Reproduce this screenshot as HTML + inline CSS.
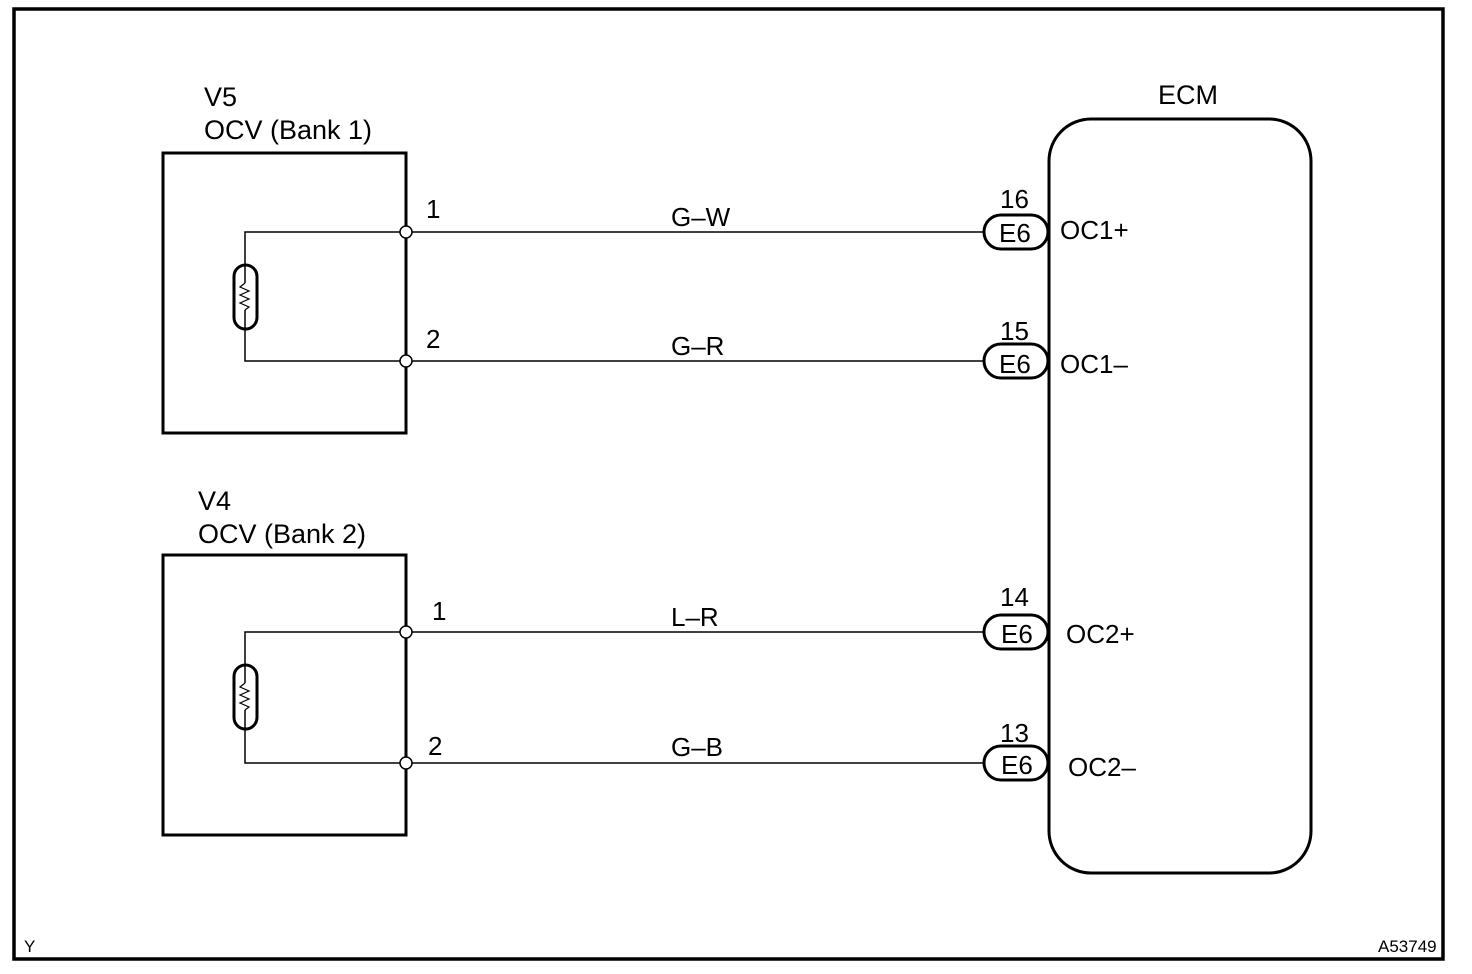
<!DOCTYPE html>
<html><head><meta charset="utf-8"><style>
html,body{margin:0;padding:0;background:#fff;}
svg{display:block;}
text{font-family:"Liberation Sans",Arial,sans-serif;fill:#000;}
</style></head><body>
<svg width="1472" height="974" viewBox="0 0 1472 974" xmlns="http://www.w3.org/2000/svg">
<rect x="14" y="9" width="1429" height="950" fill="none" stroke="#000" stroke-width="3.5"/>

<!-- Block V5 -->
<text x="204" y="106" font-size="27">V5</text>
<text x="204" y="139" font-size="27">OCV (Bank 1)</text>
<rect x="163" y="153" width="243" height="280" fill="none" stroke="#000" stroke-width="3"/>
<polyline points="406,232 245,232 245,361 406,361" fill="none" stroke="#000" stroke-width="1.5"/>
<rect x="234" y="265" width="23" height="64" rx="11.5" fill="#fff" stroke="#000" stroke-width="3"/>
<polyline points="245,283 240,287 249,291 240,295 249,299 240,303 249,307 245,310" fill="none" stroke="#000" stroke-width="1.2"/>
<line x1="245" y1="265" x2="245" y2="283" stroke="#000" stroke-width="1.5"/>
<line x1="245" y1="310" x2="245" y2="329" stroke="#000" stroke-width="1.5"/>
<line x1="406" y1="232" x2="984" y2="232" stroke="#000" stroke-width="1.5"/>
<line x1="406" y1="361" x2="984" y2="361" stroke="#000" stroke-width="1.5"/>
<circle cx="406" cy="232" r="6" fill="#fff" stroke="#000" stroke-width="1.5"/>
<circle cx="406" cy="361" r="6" fill="#fff" stroke="#000" stroke-width="1.5"/>
<text x="426" y="218" font-size="26">1</text>
<text x="426" y="348" font-size="26">2</text>
<text x="671" y="226" font-size="26">G–W</text>
<text x="671" y="355" font-size="26">G–R</text>

<!-- Block V4 -->
<text x="198" y="510" font-size="27">V4</text>
<text x="198" y="543" font-size="27">OCV (Bank 2)</text>
<rect x="163" y="555" width="243" height="280" fill="none" stroke="#000" stroke-width="3"/>
<polyline points="406,632 245,632 245,763 406,763" fill="none" stroke="#000" stroke-width="1.5"/>
<rect x="234" y="665" width="23" height="64" rx="11.5" fill="#fff" stroke="#000" stroke-width="3"/>
<polyline points="245,683 240,687 249,691 240,695 249,699 240,703 249,707 245,710" fill="none" stroke="#000" stroke-width="1.2"/>
<line x1="245" y1="665" x2="245" y2="683" stroke="#000" stroke-width="1.5"/>
<line x1="245" y1="710" x2="245" y2="729" stroke="#000" stroke-width="1.5"/>
<line x1="406" y1="632" x2="984" y2="632" stroke="#000" stroke-width="1.5"/>
<line x1="406" y1="763" x2="984" y2="763" stroke="#000" stroke-width="1.5"/>
<circle cx="406" cy="632" r="6" fill="#fff" stroke="#000" stroke-width="1.5"/>
<circle cx="406" cy="763" r="6" fill="#fff" stroke="#000" stroke-width="1.5"/>
<text x="432" y="620" font-size="26">1</text>
<text x="428" y="755" font-size="26">2</text>
<text x="671" y="626" font-size="26">L–R</text>
<text x="671" y="756" font-size="26">G–B</text>

<!-- ECM -->
<text x="1158" y="104" font-size="27">ECM</text>
<rect x="1049" y="119" width="262" height="754" rx="42" fill="none" stroke="#000" stroke-width="3"/>

<g stroke="#000" stroke-width="3" fill="#fff">
<rect x="984" y="215" width="64" height="34" rx="17"/>
<rect x="984" y="344" width="64" height="34" rx="17"/>
<rect x="984" y="615" width="64" height="34" rx="17"/>
<rect x="984" y="746" width="64" height="34" rx="17"/>
</g>
<g font-size="26">
<text x="999" y="242">E6</text>
<text x="999" y="373">E6</text>
<text x="1001" y="643">E6</text>
<text x="1001" y="774">E6</text>
<text x="1000" y="208">16</text>
<text x="1000" y="340">15</text>
<text x="1000" y="606">14</text>
<text x="1000" y="742">13</text>
<text x="1060" y="239">OC1+</text>
<text x="1060" y="373">OC1–</text>
<text x="1066" y="643">OC2+</text>
<text x="1068" y="776">OC2–</text>
</g>

<text x="24" y="952" font-size="17">Y</text>
<text x="1378" y="952" font-size="17">A53749</text>
</svg>
</body></html>
